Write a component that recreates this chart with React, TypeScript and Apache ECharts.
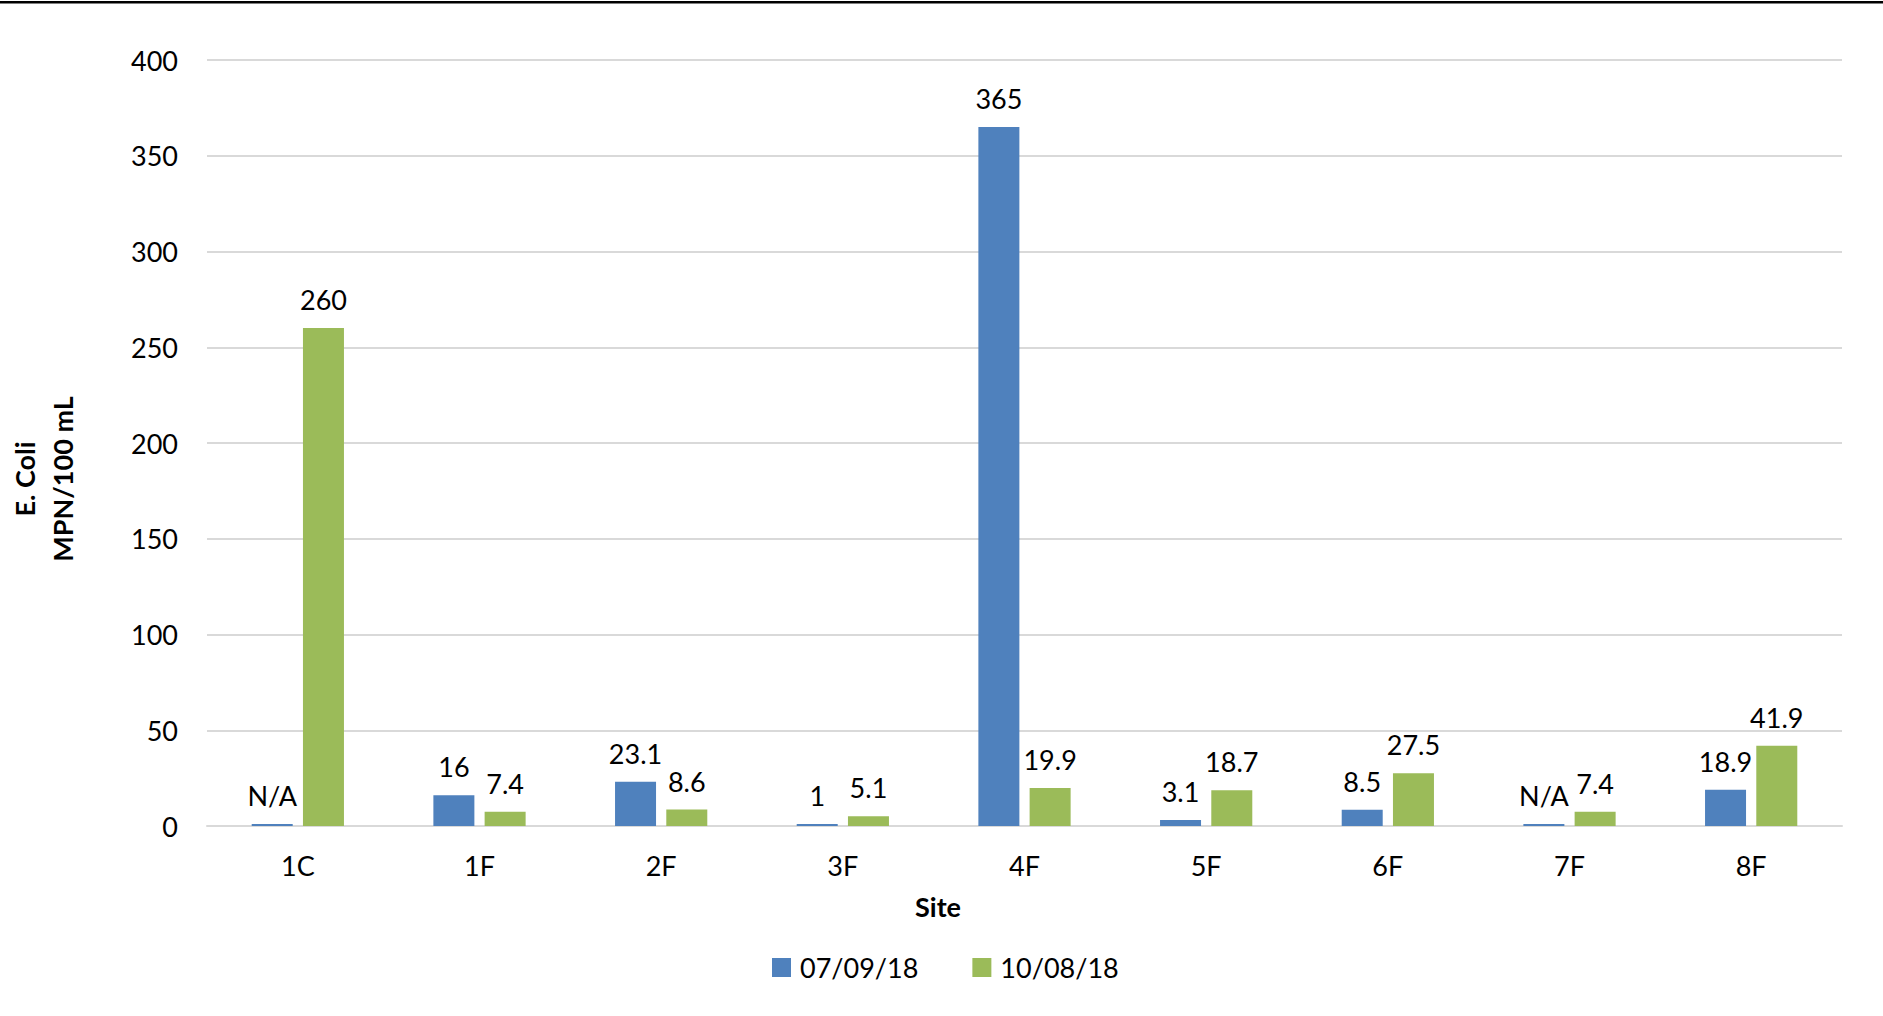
import React, { useEffect, useRef } from "react";
import * as echarts from "echarts";

const categories = ["1C", "1F", "2F", "3F", "4F", "5F", "6F", "7F", "8F"];
const seriesNames = ["07/09/18", "10/08/18"];
// N/A sites are drawn as a minimal bar of 1 (as in the original), labelled "N/A"
const blueValues = [1, 16, 23.1, 1, 365, 3.1, 8.5, 1, 18.9];
const blueLabels = ["N/A", "16", "23.1", "1", "365", "3.1", "8.5", "N/A", "18.9"];
const greenValues = [260, 7.4, 8.6, 5.1, 19.9, 18.7, 27.5, 7.4, 41.9];
const greenLabels = ["260", "7.4", "8.6", "5.1", "19.9", "18.7", "27.5", "7.4", "41.9"];
const yTicks = { min: 0, max: 400, interval: 50 };

const FONT = "Lato, 'Open Sans', sans-serif";

export default function App() {
  const ref = useRef<HTMLDivElement>(null);
  useEffect(() => {
    if (!ref.current) return;
    const chart = echarts.init(ref.current, undefined, { renderer: "svg" });
    const labelStyle = {
      show: true,
      position: "top" as const,
      distance: 15,
      color: "#000",
      fontSize: 27,
      fontFamily: FONT,
    };
    chart.setOption({
      animation: false,
      backgroundColor: "#ffffff",
      textStyle: { fontFamily: FONT },
      grid: { left: 207, right: 41, top: 60, bottom: 190, containLabel: false },
      legend: {
        left: 767,
        top: 949,
        itemWidth: 19,
        itemHeight: 19,
        itemGap: 54,
        icon: "rect",
        textStyle: { fontSize: 27, color: "#000", fontFamily: FONT, padding: [0, 0, 0, 4] },
        data: seriesNames,
      },
      xAxis: {
        type: "category",
        data: categories,
        axisTick: { show: false },
        axisLine: { show: true, lineStyle: { color: "#d9d9d9", width: 2 } },
        axisLabel: { color: "#000", fontSize: 27, fontFamily: FONT, margin: 26 },
      },
      yAxis: {
        type: "value",
        min: yTicks.min,
        max: yTicks.max,
        interval: yTicks.interval,
        axisLine: { show: false },
        axisTick: { show: false },
        axisLabel: { color: "#000", fontSize: 27, fontFamily: FONT, margin: 29 },
        splitLine: { lineStyle: { color: "#d9d9d9", width: 2 } },
      },
      series: [
        {
          name: seriesNames[0],
          type: "bar",
          data: blueValues,
          barWidth: 41,
          barGap: "25%",
          itemStyle: { color: "#4F81BD" },
          label: { ...labelStyle, formatter: (p: any) => blueLabels[p.dataIndex] },
        },
        {
          name: seriesNames[1],
          type: "bar",
          data: greenValues,
          barWidth: 41,
          barGap: "25%",
          itemStyle: { color: "#9BBB59" },
          label: { ...labelStyle, formatter: (p: any) => greenLabels[p.dataIndex] },
        },
      ],
      graphic: [
        {
          type: "rect",
          shape: { x: 0, y: 1, width: 1883, height: 2.5 },
          style: { fill: "#000" },
        },
        {
          type: "text",
          x: 43,
          y: 479,
          rotation: Math.PI / 2,
          style: {
            text: "E. Coli\nMPN/100 mL",
            fontSize: 27,
            fontWeight: "bold",
            fontFamily: FONT,
            fill: "#000",
            align: "center",
            verticalAlign: "middle",
            lineHeight: 38,
          },
        },
        {
          type: "text",
          x: 938,
          y: 906,
          style: {
            text: "Site",
            fontSize: 27,
            fontWeight: "bold",
            fontFamily: FONT,
            fill: "#000",
            align: "center",
            verticalAlign: "middle",
          },
        },
      ],
    });
    return () => chart.dispose();
  }, []);
  return (
    <div
      ref={ref}
      style={{ position: "fixed", left: 0, top: 0, width: 1883, height: 1016, background: "#fff" }}
    />
  );
}
